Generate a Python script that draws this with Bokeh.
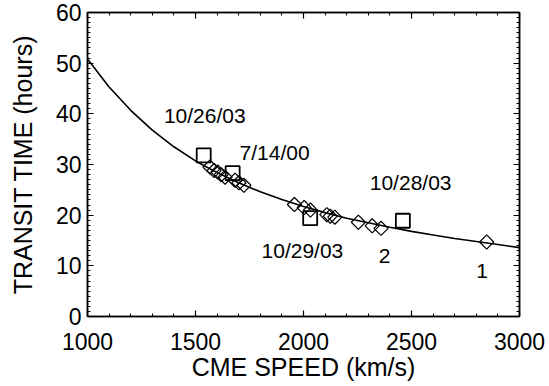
import math
from bokeh.plotting import figure
from bokeh.models import (Range1d, LinearAxis, SingleIntervalTicker, ColumnDataSource,
                          CustomJSTickFormatter)
from bokeh.core.properties import value
from bokeh.embed import file_html
from bokeh.resources import INLINE

# CME events (diamonds)
diamond_speed = [1567, 1586, 1603, 1619, 1637, 1683, 1701, 1724,
                 1958, 2003, 2032, 2108, 2124, 2145, 2254, 2318, 2359, 2848]
diamond_time = [29.5, 28.8, 28.5, 28.0, 27.5, 26.9, 26.4, 25.9,
                22.1, 21.5, 21.0, 20.1, 19.8, 19.6, 18.6, 17.9, 17.4, 14.7]

# Highlighted events (squares)
square_speed = [1538, 1672, 2031, 2460]
square_time = [31.8, 28.3, 19.4, 18.9]

# Model curve
curve_speed = [1000, 1100, 1200, 1300, 1400, 1500, 1600, 1700, 1800, 1900,
               2000, 2100, 2200, 2300, 2400, 2500, 2600, 2700, 2800, 2900, 3000]
curve_time = [50.8, 45.3, 40.7, 36.8, 33.5, 30.7, 28.4, 26.4, 24.6, 23.1,
              21.7, 20.5, 19.4, 18.5, 17.6, 16.8, 16.1, 15.4, 14.8, 14.2, 13.6]

# Annotations
label_text = ["10/26/03", "7/14/00", "10/28/03", "10/29/03", "2", "1"]
label_speed = [1543, 1866, 2496, 1995, 2375, 2827]
label_time = [39.6, 32.4, 26.4, 13.1, 11.9, 8.95]

FONT = "Liberation Sans"

p = figure(width=549, height=386, output_backend="svg", toolbar_location=None,
           x_range=Range1d(1000, 3000), y_range=Range1d(0, 60),
           x_axis_location=None, y_axis_location=None,
           min_border_left=87, min_border_right=30, min_border_top=12,
           min_border_bottom=70)
p.xgrid.visible = False
p.ygrid.visible = False
p.outline_line_color = "black"
p.outline_line_width = 1.5
p.background_fill_color = "white"
p.border_fill_color = "white"

bottom = LinearAxis(ticker=SingleIntervalTicker(interval=500, num_minor_ticks=5))
top = LinearAxis(ticker=SingleIntervalTicker(interval=500, num_minor_ticks=5),
                 formatter=CustomJSTickFormatter(code="return '';"))
left = LinearAxis(ticker=SingleIntervalTicker(interval=10, num_minor_ticks=10))
right = LinearAxis(ticker=SingleIntervalTicker(interval=10, num_minor_ticks=10),
                   formatter=CustomJSTickFormatter(code="return '';"))
p.add_layout(bottom, "below")
p.add_layout(left, "left")
p.add_layout(top, "above")
p.add_layout(right, "right")

for ax in [bottom, left, top, right]:
    ax.major_tick_in = 6
    ax.major_tick_out = 0
    ax.minor_tick_in = 3
    ax.minor_tick_out = 0
    ax.axis_line_color = "black"
    ax.axis_line_width = 1.5
    ax.major_tick_line_color = "black"
    ax.minor_tick_line_color = "black"
    ax.major_tick_line_width = 1.2
    ax.minor_tick_line_width = 1
    ax.major_label_text_font = FONT
    ax.major_label_text_font_size = "23px"
    ax.major_label_text_color = "black"
    ax.axis_label_text_font = FONT
    ax.axis_label_text_font_style = "normal"
    ax.axis_label_text_font_size = "25px"
    ax.axis_label_text_color = "black"

for ax in [top, right]:
    ax.major_label_standoff = 0

bottom.axis_label = "CME SPEED (km/s)"
bottom.major_label_standoff = 16
bottom.axis_label_standoff = 0
left.axis_label = "TRANSIT TIME (hours)"
left.major_label_standoff = 6
left.axis_label_standoff = 16

p.line(curve_speed, curve_time, line_color="black", line_width=1.6)

p.scatter(diamond_speed, diamond_time, marker="square", angle=math.pi / 4,
          size=10, fill_color=None, line_color="black", line_width=1.2)
p.scatter(square_speed, square_time, marker="square", size=14,
          fill_color=None, line_color="black", line_width=1.8)

src = ColumnDataSource(dict(x=label_speed, y=label_time, t=label_text))
p.text(x="x", y="y", text="t", source=src, text_font=value(FONT),
       text_font_size="21px", text_align="center", text_baseline="middle",
       text_color="black")

open("out.html", "w").write(file_html(p, INLINE))
